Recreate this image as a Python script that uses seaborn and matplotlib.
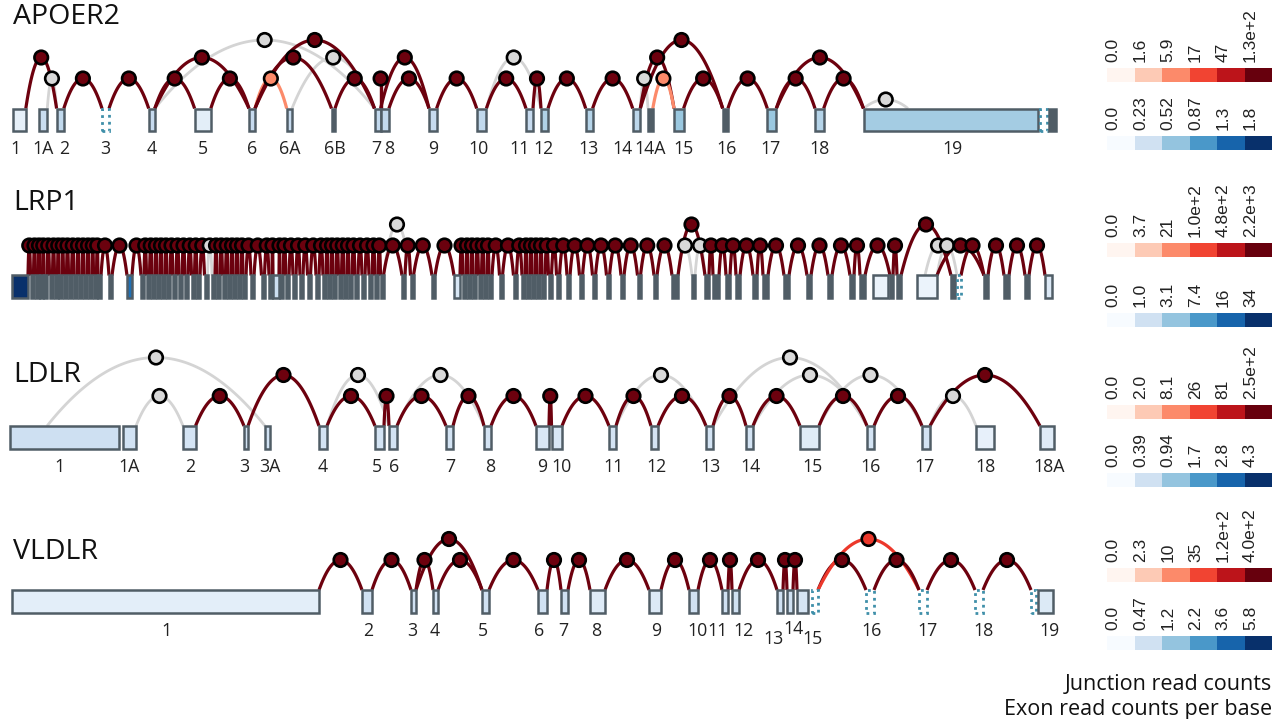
import numpy as np
import pandas as pd
import seaborn as sns
import matplotlib
matplotlib.use('Agg')
import matplotlib.pyplot as plt
from matplotlib.patches import Rectangle
from matplotlib.colors import to_hex

sns.set_style('white')
plt.rcParams['font.family'] = ['Open Sans', 'DejaVu Sans']

nan = float('nan')

# ---------------- APOER2 ----------------
apoer2_names = ['1', '1A', '2', '3', '4', '5', '6', '6A', '6B', '7', '8', '9', '10', '11', '12',
                '13', '14', '14A', '15', '16', '17', '18', '19', '', '']
apoer2_name_x = [15, 43, 64, 105, 152, 202.5, 252, 290, 335, 376, 389, 433, 478.5, 519, 543,
                 588, 622, 650.5, 683.5, 727, 770, 819.5, 952, 0, 0]
apoer2_start = [12.5, 39.4, 56.6, 102, 148.7, 194.6, 249, 286.7, 331.5, 374.5, 380.6, 429, 476.7, 526, 541,
                585.7, 632.7, 648, 674, 722.7, 767.3, 815, 863.5, 1040, 1048.7]
apoer2_end = [25.8, 47.3, 63.8, 109, 154.8, 210.8, 255, 292, 335, 380.6, 388.9, 436.6, 486.4, 533, 548,
              592.6, 640.3, 652.8, 683.6, 727.9, 776.3, 823.7, 1038.3, 1047, 1055.6]
apoer2_cov = [0.1, 0.28, 0.33, nan, 0.3, 0.12, 0.3, 0.3, nan, 0.32, 0.32, 0.3, 0.33, 0.3, 0.4,
              0.38, 0.35, nan, 0.5, nan, 0.5, 0.38, 0.46, nan, nan]
apoer2_kind = 'bbbdbbbbsbbbbbbbbsbsbbbds'
apoer2_jx0 = [25.8, 47.3, 63.8, 109, 154.8, 154.8, 210.8, 154.8, 255, 255, 255, 292, 335, 380.6, 380.6, 388.9,
              436.6, 486.4, 486.4, 533, 548, 592.6, 640.3, 640.3, 652.8, 640.3, 683.6, 727.9, 776.3, 776.3,
              823.7, 863.5]
apoer2_jx1 = [56.6, 56.6, 102, 148.7, 194.6, 249, 249, 374.5, 286.7, 331.5, 374.5, 374.5, 374.5, 380.6, 429, 429,
              476.7, 526, 541, 541, 585.7, 632.7, 648, 674, 674, 722.7, 722.7, 767.3, 815, 863.5, 863.5, 908]
apoer2_jlev = [2, 1, 1, 1, 1, 2, 1, 3, 1, 2, 3, 2, 1, 1, 2, 1, 1, 1, 2, 1, 1, 1, 1, 2, 1, 3, 1, 1, 1, 2, 1, 0]
apoer2_jcnt = [125, 0, 125, 125, 125, 125, 125, 0, 6, 125, 125, 0, 125, 125, 125, 125, 125, 125, 0, 125,
               125, 125, 0, 125, 6, 125, 125, 125, 125, 125, 125, 0]
apoer2_jlabels = ['0.0', '1.6', '5.9', '17', '47', '1.3e+2']
apoer2_elabels = ['0.0', '0.23', '0.52', '0.87', '1.3', '1.8']

# ---------------- LRP1 ----------------
lrp1_center = [20, 32, 37, 41, 45.5, 51, 56, 60.5, 65, 70,
               75.5, 80.5, 85.5, 90.5, 95, 99.5, 110.5, 129.5, 142.5, 148,
               153.5, 158.5, 163.5, 168.5, 174.5, 180.5, 186.5, 193, 198.5, 206,
               213.5, 218.5, 224, 229.5, 234.5, 239.5, 244.5, 252.5, 263, 270.5,
               276, 281.5, 287.5, 294.5, 301.5, 309, 317.5, 324.5, 329.5, 334.5,
               340, 345.5, 350.5, 356.5, 363.5, 370.5, 376.5, 382, 403.5, 412,
               433.5, 457, 464.5, 469.5, 474.5, 480, 485.5, 490.5, 501, 515,
               523.5, 528.5, 533.5, 538.5, 543.5, 550, 558, 568.5, 581, 594,
               608, 622.5, 639, 655.5, 675, 693.5, 707, 716, 728, 738,
               755, 765.5, 786.5, 809, 830, 852, 862.5, 880.5, 891.5, 899,
               927, 953, 959, 986, 1006.5, 1027, 1048.5]
lrp1_width = {0: 16, 17: 5, 40: 6, 61: 6, 84: 6, 86: 4, 87: 6, 88: 4, 89: 4, 90: 4, 91: 5, 92: 5,
              93: 4, 94: 4, 95: 4, 96: 5, 97: 15, 99: 4, 100: 20, 101: 4, 102: 4, 103: 4, 104: 5,
              105: 4, 106: 7}
lrp1_box_cov = {0: 34, 17: 14, 40: 1.2, 61: 0.8, 97: 0.3, 100: 0.3, 106: 0.7}
lrp1_dotted = [102]
lrp1_no_chain = [(96, 97), (97, 98), (99, 100), (100, 101), (101, 102)]
lrp1_zero_chain = [(29, 30), (84, 85), (85, 86)]
lrp1_chain_count = 2100
lrp1_extra_x0 = [383.5, 678, 865, 901, 925, 937, 937]
lrp1_extra_x1 = [410.5, 705, 890, 951, 951, 957, 984]
lrp1_extra_lev = [2, 2, 1, 2, 1, 1, 1]
lrp1_extra_cnt = [0, 2100, 2100, 2100, 0, 0, 2100]
lrp1_jlabels = ['0.0', '3.7', '21', '1.0e+2', '4.8e+2', '2.2e+3']
lrp1_elabels = ['0.0', '1.0', '3.1', '7.4', '16', '34']

# ---------------- LDLR ----------------
ldlr_names = ['1', '1A', '2', '3', '3A', '4', '5', '6', '7', '8', '9', '10', '11', '12', '13', '14',
              '15', '16', '17', '18', '18A']
ldlr_name_x = [59, 129, 190, 244, 270, 323, 377, 394, 450, 490, 542, 561, 613, 656, 710, 750,
               812, 871, 924, 985, 1049]
ldlr_start = [10, 123, 183, 244, 265, 319, 375, 389, 446, 484, 536, 551.5, 609, 651, 706, 746,
              800, 867, 922, 976, 1040]
ldlr_end = [119, 136, 195.5, 248, 270, 327, 384, 397, 453, 491, 549, 562, 616, 658, 713, 753,
            819, 874, 930, 994, 1054]
ldlr_cov = [0.41, 0.38, 0.35, 0.38, 0.38, 0.36, 0.36, 0.36, 0.36, 0.36, 0.3, 0.3, 0.36, 0.36, 0.36, 0.36,
            0.23, 0.36, 0.36, 0.16, 0.24]
ldlr_kind = 'b' * 21
ldlr_jx0 = [47, 136, 195.5, 248, 327, 327, 384, 397, 397, 453, 491, 549, 562, 616, 616, 658, 713, 713,
            753, 753, 819, 819, 874, 930, 930]
ldlr_jx1 = [265, 183, 244, 319, 389, 375, 389, 446, 484, 484, 536, 551.5, 609, 651, 706, 706, 746, 867,
            800, 867, 867, 922, 922, 976, 1040]
ldlr_jlev = [3, 1, 1, 2, 2, 1, 1, 1, 2, 1, 1, 1, 1, 1, 2, 1, 1, 3, 1, 2, 1, 2, 1, 1, 2]
ldlr_jcnt = [0, 0, 240, 240, 0, 240, 240, 240, 0, 240, 240, 240, 240, 240, 0, 240, 240, 0, 240, 0,
             240, 0, 240, 0, 240]
ldlr_jlabels = ['0.0', '2.0', '8.1', '26', '81', '2.5e+2']
ldlr_elabels = ['0.0', '0.39', '0.94', '1.7', '2.8', '4.3']

# ---------------- VLDLR ----------------
vldlr_names = ['1', '2', '3', '4', '5', '6', '7', '8', '9', '10', '11', '12', '13', '14', '',
               '15', '16', '17', '18', '', '19']
vldlr_name_x = [166, 368, 412, 435, 483, 539, 563, 596, 656, 697, 717, 743, 773, 793, 0,
                812, 872, 927, 983, 0, 1049]
vldlr_name_dy = [0, 0, 0, 0, 0, 0, 0, 0, 0, 0, 0, 0, -8, 2, 0, -8, 0, 0, 0, 0, 0]
vldlr_start = [12, 362, 411, 433, 482, 538, 561, 590, 649, 689, 722, 732, 777, 787, 797,
               812, 866, 919, 975, 1031, 1038]
vldlr_end = [319, 372, 416, 438, 489, 547, 568, 605, 661, 698, 728, 739, 783, 793, 808,
             818, 874, 927, 983, 1036, 1053]
vldlr_cov = [0.23, 0.47, 0.47, 0.47, 0.47, 0.47, 0.47, 0.3, 0.33, 0.47, 0.47, 0.47, 0.47, 0.47, 0.4,
             nan, nan, nan, nan, nan, 0.32]
vldlr_kind = 'bbbbbbbbbbbbbbbdddddb'
vldlr_jx0 = [319, 372, 416, 416, 438, 489, 547, 568, 605, 661, 698, 728, 739, 783, 793, 818, 818, 874, 927, 983]
vldlr_jx1 = [362, 411, 433, 482, 482, 538, 561, 590, 649, 689, 722, 732, 777, 787, 797, 866, 919, 919, 975, 1031]
vldlr_jlev = [1, 1, 1, 2, 1, 1, 1, 1, 1, 1, 1, 1, 1, 1, 1, 1, 2, 1, 1, 1]
vldlr_jcnt = [380, 380, 380, 380, 380, 380, 380, 380, 380, 380, 380, 380, 380, 380, 380, 380, 50, 380, 380, 380]
vldlr_jlabels = ['0.0', '2.3', '10', '35', '1.2e+2', '4.0e+2']
vldlr_elabels = ['0.0', '0.47', '1.2', '2.2', '3.6', '5.8']

# build LRP1 exon and junction lists
lrp1_start = [c - lrp1_width.get(i, 3) / 2 for i, c in enumerate(lrp1_center)]
lrp1_end = [c + lrp1_width.get(i, 3) / 2 for i, c in enumerate(lrp1_center)]
lrp1_cov = [lrp1_box_cov.get(i, nan) for i in range(len(lrp1_center))]
lrp1_kind = ''.join('d' if i in lrp1_dotted else ('b' if i in lrp1_box_cov else 's')
                    for i in range(len(lrp1_center)))
lrp1_jx0, lrp1_jx1, lrp1_jlev, lrp1_jcnt = [], [], [], []
for i in range(len(lrp1_center) - 1):
    if (i, i + 1) in lrp1_no_chain:
        continue
    lrp1_jx0.append(lrp1_end[i])
    lrp1_jx1.append(lrp1_start[i + 1])
    lrp1_jlev.append(1)
    lrp1_jcnt.append(0 if (i, i + 1) in lrp1_zero_chain else lrp1_chain_count)
lrp1_jx0 += lrp1_extra_x0
lrp1_jx1 += lrp1_extra_x1
lrp1_jlev += lrp1_extra_lev
lrp1_jcnt += lrp1_extra_cnt

# ---------------- drawing ----------------
W, H = 1274, 719
POS = np.linspace(0, 1, 6)
BOX_H = 22.5
LEVEL_PX = {0: 9, 1: 30, 2: 51, 3: 68.5}
EDGE = '#505d66'
TEAL = '#3f8fa9'
GREY_LINE = '#d4d4d4'
GREY_DOT = '#d9d9d9'
reds = plt.get_cmap('Reds')
blues = plt.get_cmap('Blues')

fig = plt.figure(figsize=(W / 100, H / 100), dpi=100)


def px_axes(x0, y0, x1, y1):
    return fig.add_axes([x0 / W, 1 - y1 / H, (x1 - x0) / W, (y1 - y0) / H])


def draw_gene(bottom_px, ex_start, ex_end, ex_cov, ex_kind, names, name_x, name_dy,
              jx0, jx1, jlev, jcnt, jlabels, elabels):
    j_ticks = [float(s) for s in jlabels]
    e_ticks = [float(s) for s in elabels]
    ax = px_axes(0, bottom_px - 100, 1060, bottom_px + 30)
    t = np.linspace(-1, 1, 80)
    dots = []
    # grey (zero count) junctions underneath
    for k in sorted(range(len(jx0)), key=lambda k: jcnt[k] > 0):
        mid = (jx0[k] + jx1[k]) / 2
        half = (jx1[k] - jx0[k]) / 2
        h = LEVEL_PX[jlev[k]]
        if jcnt[k] > 0:
            col = to_hex(reds(np.interp(jcnt[k], j_ticks, POS)))
            line_col, lw, z = col, 2.3, 2
        else:
            col, line_col, lw, z = GREY_DOT, GREY_LINE, 2.0, 1
        ax.plot(mid + half * t, BOX_H + h * (1 - t ** 2), color=line_col, lw=lw, zorder=z,
                solid_capstyle='butt', clip_on=False)
        dots.append((mid, BOX_H + h, col))
    for s, e, v, kind in zip(ex_start, ex_end, ex_cov, ex_kind):
        if kind == 'd':
            ax.add_patch(Rectangle((s, 0), e - s, BOX_H, fill=False, ec=TEAL, lw=2,
                                   ls=(0, (1, 1.5)), zorder=3, clip_on=False))
        else:
            fc = EDGE if kind == 's' else blues(np.interp(v, e_ticks, POS))
            ax.add_patch(Rectangle((s, 0), e - s, BOX_H, fc=fc, ec=EDGE, lw=1.8, zorder=3, clip_on=False))
    for lab, x, dy in zip(names, name_x, name_dy):
        if lab:
            ax.text(x, -18 + dy, lab, ha='center', va='center', fontsize=12.8, color='#222222')
    df = pd.DataFrame(dots, columns=['x', 'y', 'c']).sort_values('x', kind='stable')
    sns.scatterplot(data=df, x='x', y='y', hue='c', palette={c: c for c in df['c'].unique()},
                    s=95, edgecolor='black', linewidth=1.9, legend=False, ax=ax, zorder=5, clip_on=False)
    ax.set_xlim(0, 1060)
    ax.set_ylim(-30, 100)
    ax.axis('off')


def draw_cbar(top_px, labels, cmap):
    cax = px_axes(1107, top_px, 1272, top_px + 13.5)
    sns.heatmap(POS.reshape(1, -1), ax=cax, cmap=cmap, vmin=0, vmax=1, cbar=False,
                xticklabels=False, yticklabels=False)
    cax.set_xticks(np.arange(6) + 0.22)
    cax.set_xticklabels(labels, rotation=90, fontsize=12.5, color='#222222',
                        family=['Liberation Sans', 'DejaVu Sans'])
    cax.tick_params(axis='x', length=0, pad=4.5, top=True, bottom=False, labeltop=True, labelbottom=False)


genes = [
    ('APOER2', 23.5, 131, apoer2_start, apoer2_end, apoer2_cov, apoer2_kind, apoer2_names, apoer2_name_x,
     [0] * len(apoer2_names), apoer2_jx0, apoer2_jx1, apoer2_jlev, apoer2_jcnt, apoer2_jlabels, apoer2_elabels,
     68, 136),
    ('LRP1', 210, 298, lrp1_start, lrp1_end, lrp1_cov, lrp1_kind, [], [], [],
     lrp1_jx0, lrp1_jx1, lrp1_jlev, lrp1_jcnt, lrp1_jlabels, lrp1_elabels, 243, 313),
    ('LDLR', 382, 448.5, ldlr_start, ldlr_end, ldlr_cov, ldlr_kind, ldlr_names, ldlr_name_x,
     [0] * len(ldlr_names), ldlr_jx0, ldlr_jx1, ldlr_jlev, ldlr_jcnt, ldlr_jlabels, ldlr_elabels, 405, 473),
    ('VLDLR', 559, 612.5, vldlr_start, vldlr_end, vldlr_cov, vldlr_kind, vldlr_names, vldlr_name_x,
     vldlr_name_dy, vldlr_jx0, vldlr_jx1, vldlr_jlev, vldlr_jcnt, vldlr_jlabels, vldlr_elabels, 568, 636),
]

for g in genes:
    title, title_y, bottom = g[0], g[1], g[2]
    draw_gene(bottom, *g[3:16])
    fig.text(13 / W, 1 - title_y / H, title, fontsize=20.5, va='baseline', ha='left', color='#111111')
    draw_cbar(g[16], g[14], 'Reds')
    draw_cbar(g[17], g[15], 'Blues')

fig.text(1272 / W, 1 - 690 / H, 'Junction read counts', ha='right', va='baseline', fontsize=15.5, color='#111111')
fig.text(1272 / W, 1 - 715 / H, 'Exon read counts per base', ha='right', va='baseline', fontsize=15.5,
         color='#111111')

fig.savefig('out.png', dpi=100)
